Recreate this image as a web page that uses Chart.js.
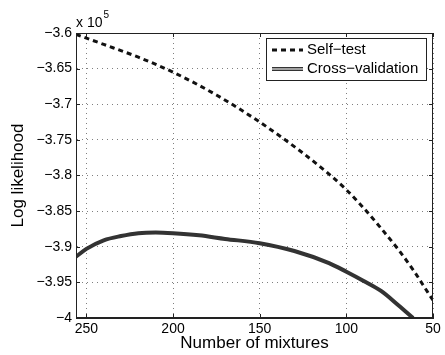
<!DOCTYPE html>
<html>
<head>
<meta charset="utf-8">
<script src="https://cdn.jsdelivr.net/npm/chart.js@4.4.1/dist/chart.umd.min.js"></script>
<style>
  html, body { margin: 0; padding: 0; background: #fff; }
  canvas { display: block; }
</style>
</head>
<body>
<canvas id="llChart" width="445" height="355"></canvas>
<script>
// number of mixtures (x) and log likelihood (x 10^5)
var mixSelf = [256, 240, 220, 200, 175, 150, 127, 111, 100, 91, 80, 70, 61, 53, 50];
var llSelf = [-3.602, -3.616, -3.634, -3.655, -3.687, -3.725, -3.765, -3.796, -3.820, -3.843, -3.874, -3.904, -3.934, -3.964, -3.975];

var mixCross = [256, 250, 240, 230, 220, 210, 200, 185, 170, 150, 130, 110, 100, 90, 80, 70, 61.5];
var llCross = [-3.914, -3.903, -3.891, -3.885, -3.881, -3.880, -3.881, -3.884, -3.889, -3.895, -3.906, -3.923, -3.935, -3.948, -3.962, -3.982, -4.0];

var seriesNames = ["Self\u2212test", "Cross\u2212validation"];
var xRange = [50, 256];
var yRange = [-4, -3.6];
var exponent = "5";

function pts(xs, ys) {
    return xs.map(function (v, i) { return { x: v, y: ys[i] }; });
}

var FONT = '"Liberation Sans", Arial, Helvetica, sans-serif';
var GRID = 'rgba(0,0,0,0.5)';

var frame = {
    id: 'frame',
    afterDraw: function (chart) {
        var ctx = chart.ctx, a = chart.chartArea;
        var xs = chart.scales.x, ys = chart.scales.y;
        ctx.save();
        ctx.strokeStyle = '#222';
        ctx.lineWidth = 1;
        ctx.strokeRect(Math.round(a.left) + 0.5, Math.round(a.top) + 0.5,
            Math.round(a.width) - 1, Math.round(a.height) - 1);

        // inward tick marks on all four sides
        ctx.beginPath();
        xs.ticks.forEach(function (t) {
            var px = Math.round(xs.getPixelForValue(t.value)) + 0.5;
            ctx.moveTo(px, a.bottom); ctx.lineTo(px, a.bottom - 4);
            ctx.moveTo(px, a.top); ctx.lineTo(px, a.top + 4);
        });
        ys.ticks.forEach(function (t) {
            var py = Math.round(ys.getPixelForValue(t.value)) + 0.5;
            ctx.moveTo(a.left, py); ctx.lineTo(a.left + 4, py);
            ctx.moveTo(a.right, py); ctx.lineTo(a.right - 4, py);
        });
        ctx.stroke();

        // x 10^5
        ctx.fillStyle = '#000';
        ctx.textBaseline = 'alphabetic';
        ctx.textAlign = 'left';
        ctx.font = '14px ' + FONT;
        var base = 'x 10';
        ctx.fillText(base, a.left, a.top - 6);
        var w = ctx.measureText(base).width;
        ctx.font = '10px ' + FONT;
        ctx.fillText(exponent, a.left + w + 1, a.top - 15);

        // legend box
        var bw = 160, bh = 42;
        var bx = Math.round(a.right) - 7 - bw, by = Math.round(a.top) + 5;
        ctx.fillStyle = '#fff';
        ctx.fillRect(bx, by, bw, bh);
        ctx.strokeStyle = '#222';
        ctx.lineWidth = 1;
        ctx.strokeRect(bx + 0.5, by + 0.5, bw, bh);

        var y1 = by + 12, y2 = by + 31;
        var lx0 = bx + 6, lx1 = bx + 37;
        ctx.strokeStyle = '#111';
        ctx.lineWidth = 3;
        ctx.setLineDash([5, 4]);
        ctx.beginPath(); ctx.moveTo(lx0, y1); ctx.lineTo(lx1, y1); ctx.stroke();
        ctx.setLineDash([]);
        ctx.strokeStyle = '#333';
        ctx.lineWidth = 4;
        ctx.beginPath(); ctx.moveTo(lx0, y2); ctx.lineTo(lx1, y2); ctx.stroke();
        ctx.strokeStyle = '#a0a0a0';
        ctx.lineWidth = 2;
        ctx.beginPath(); ctx.moveTo(lx0, y2); ctx.lineTo(lx1, y2); ctx.stroke();

        ctx.fillStyle = '#000';
        ctx.font = '15px ' + FONT;
        ctx.textBaseline = 'middle';
        ctx.fillText(seriesNames[0], lx1 + 4, y1);
        ctx.fillText(seriesNames[1], lx1 + 4, y2);
        ctx.restore();
    }
};

var ctx = document.getElementById('llChart');
var chart = new Chart(ctx, {
    type: 'line',
    data: {
        datasets: [{
            label: seriesNames[0],
            data: pts(mixSelf, llSelf),
            borderColor: '#111',
            borderWidth: 3,
            borderDash: [5, 4],
            pointRadius: 0,
            fill: false,
            cubicInterpolationMode: 'monotone'
        }, {
            label: seriesNames[1],
            data: pts(mixCross, llCross),
            borderColor: '#333',
            borderWidth: 4,
            pointRadius: 0,
            fill: false,
            cubicInterpolationMode: 'monotone'
        }, {
            label: 'core',
            data: pts(mixCross, llCross),
            borderColor: '#a0a0a0',
            borderWidth: 2,
            pointRadius: 0,
            fill: false,
            cubicInterpolationMode: 'monotone'
        }]
    },
    options: {
        responsive: false,
        animation: false,
        events: [],
        layout: { padding: { left: 0, top: 33, right: 12, bottom: 0 } },
        plugins: {
            legend: { display: false },
            tooltip: { enabled: false }
        },
        scales: {
            x: {
                type: 'linear',
                reverse: true,
                min: xRange[0],
                max: xRange[1],
                afterFit: function (s) { s.height = 37; },
                ticks: {
                    stepSize: 50,
                    includeBounds: false,
                    autoSkip: false,
                    maxRotation: 0,
                    padding: 3,
                    color: '#000',
                    font: { family: FONT, size: 14 }
                },
                grid: { color: GRID, drawTicks: false, lineWidth: 1 },
                border: { display: true, color: '#222', dash: [1, 4] },
                title: {
                    display: true,
                    text: 'Number of mixtures',
                    color: '#000',
                    font: { family: FONT, size: 17 },
                    padding: { top: 0, bottom: 1 }
                }
            },
            y: {
                min: yRange[0],
                max: yRange[1],
                afterFit: function (s) { s.width = 76; },
                ticks: {
                    stepSize: 0.05,
                    padding: 4,
                    color: '#000',
                    font: { family: FONT, size: 14 },
                    callback: function (v) {
                        return String(Number(v.toFixed(2))).replace('-', '\u2212');
                    }
                },
                grid: { color: GRID, drawTicks: false, lineWidth: 1 },
                border: { display: true, color: '#222', dash: [1, 4] },
                title: {
                    display: true,
                    text: 'Log likelihood',
                    color: '#000',
                    font: { family: FONT, size: 17 },
                    padding: { top: 8, bottom: 0 }
                }
            }
        }
    },
    plugins: [frame]
});
</script>
</body>
</html>
